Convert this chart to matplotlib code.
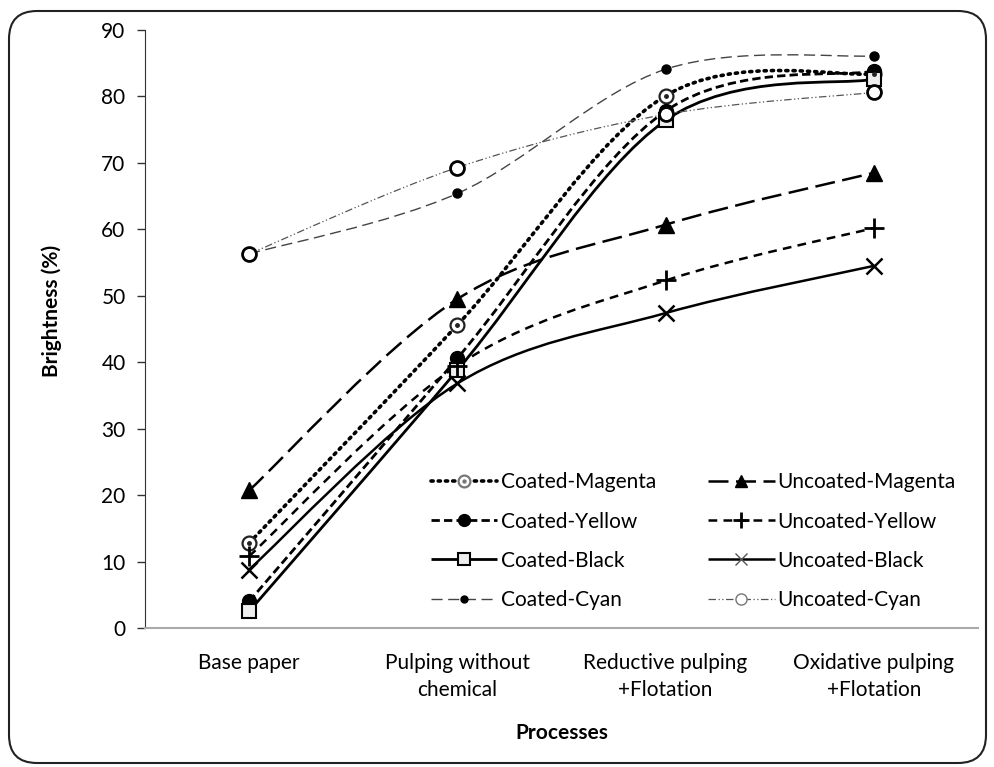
import numpy as np
import matplotlib
matplotlib.use('Agg')
import matplotlib.pyplot as plt
from matplotlib.path import Path
from matplotlib.patches import PathPatch, FancyBboxPatch
from matplotlib.lines import Line2D
from matplotlib.legend_handler import HandlerTuple
from matplotlib.transforms import IdentityTransform

plt.rcParams['font.family'] = ['Lato', 'DejaVu Sans']

processes = ['Base paper', 'Pulping without\nchemical', 'Reductive pulping\n+Flotation',
             'Oxidative pulping\n+Flotation']

coated_magenta = [12.8, 45.6, 80.1, 83.4]
coated_yellow = [4.0, 40.6, 77.8, 83.8]
coated_black = [2.5, 38.8, 76.4, 82.6]
coated_cyan = [56.3, 65.4, 84.1, 86.1]
uncoated_magenta = [20.7, 49.5, 60.7, 68.5]
uncoated_yellow = [10.8, 39.5, 52.3, 60.2]
uncoated_black = [8.8, 36.8, 47.4, 54.5]
uncoated_cyan = [56.3, 69.3, 77.3, 80.6]


def smooth_path(ys):
    # Excel-like smoothed line: cubic bezier through each point
    pts = np.column_stack([np.arange(len(ys)), ys]).astype(float)
    n = len(pts)
    verts = [pts[0]]
    codes = [Path.MOVETO]
    for i in range(n - 1):
        p0 = pts[max(i - 1, 0)]
        p1 = pts[i]
        p2 = pts[i + 1]
        p3 = pts[min(i + 2, n - 1)]
        verts += [p1 + (p2 - p0) / 6, p2 - (p3 - p1) / 6, p2]
        codes += [Path.CURVE4] * 3
    return Path(verts, codes)


fig = plt.figure(figsize=(9.95, 7.67), dpi=100)
ax = fig.add_axes([145 / 995, 1 - 628 / 767, (978 - 145) / 995, (628 - 30) / 767])

# legend is filled column by column, so coated first, then uncoated
series = [
    ('Coated-Magenta', coated_magenta, dict(ls=(0, (0.6, 1.4)), lw=2.6, color='black', capstyle='round'),
     [dict(marker='o', ms=10, mfc='white', mec='#222222', mew=1.6),
      dict(marker='o', ms=2.5, mfc='#222222', mec='#222222')]),
    ('Coated-Yellow', coated_yellow, dict(ls=(0, (3, 1.5)), lw=2.0, color='black'),
     [dict(marker='o', ms=10, mfc='black', mec='black')]),
    ('Coated-Black', coated_black, dict(ls='-', lw=2.0, color='black'),
     [dict(marker='s', ms=10, mfc='#eeeeee', mec='black', mew=1.5)]),
    ('Coated-Cyan', coated_cyan, dict(ls=(0, (8, 4)), lw=1.0, color='#444444'),
     [dict(marker='o', ms=6.5, mfc='black', mec='black')]),
    ('Uncoated-Magenta', uncoated_magenta, dict(ls=(0, (8, 3)), lw=1.8, color='black'),
     [dict(marker='^', ms=11, mfc='black', mec='black')]),
    ('Uncoated-Yellow', uncoated_yellow, dict(ls=(0, (3.5, 2.5)), lw=1.8, color='black'),
     [dict(marker='+', ms=14, mec='black', mew=2)]),
    ('Uncoated-Black', uncoated_black, dict(ls='-', lw=1.8, color='black'),
     [dict(marker='x', ms=11, mec='black', mew=1.8)]),
    ('Uncoated-Cyan', uncoated_cyan, dict(ls=(0, (6, 2, 1, 2, 1, 2)), lw=0.9, color='#555555'),
     [dict(marker='o', ms=10, mfc='white', mec='black', mew=2)]),
]

handles = []
labels = []
for name, ys, lstyle, markers in series:
    ls = lstyle.get('ls')
    patch = PathPatch(smooth_path(ys), fill=False, edgecolor=lstyle['color'], lw=lstyle['lw'],
                      linestyle=ls, capstyle=lstyle.get('capstyle', 'butt'), zorder=2)
    ax.add_patch(patch)
    parts = []
    for k, mk in enumerate(markers):
        ax.plot(range(len(ys)), ys, ls='none', zorder=3 + k, **mk)
        legend_mk = dict(mk)
        legend_mk['ms'] = mk['ms'] * 0.85
        if k == 0:
            if name == 'Coated-Magenta':
                legend_mk['mec'] = '#777777'
            if name == 'Uncoated-Cyan':
                legend_mk.update(ms=8, mew=1, mec='#777777')
            if name == 'Coated-Cyan':
                legend_mk['ms'] = 5
            if name == 'Uncoated-Black':
                legend_mk.update(ms=9, mew=1, mec='#555555')
            parts.append(Line2D([], [], color=lstyle['color'], lw=lstyle['lw'], ls=ls,
                                solid_capstyle='butt', dash_capstyle=lstyle.get('capstyle', 'butt'),
                                **legend_mk))
        else:
            legend_mk.update(mfc='#777777', mec='#777777')
            parts.append(Line2D([], [], ls='none', **legend_mk))
    handles.append(tuple(parts) if len(parts) > 1 else parts[0])
    labels.append(name)

ax.set_xlim(-0.5, 3.5)
ax.set_ylim(0, 90)
ax.set_yticks(range(0, 91, 10))
ax.set_xticks(range(4))
ax.set_xticklabels(processes, fontsize=15, linespacing=1.45)
ax.tick_params(axis='y', labelsize=15, length=6, width=1, color='#333333', pad=8)
ax.tick_params(axis='x', length=0, pad=18)
for s in ['top', 'right']:
    ax.spines[s].set_visible(False)
ax.spines['left'].set_color('#333333')
ax.spines['bottom'].set_color('#aaaaaa')
ax.spines['bottom'].set_linewidth(1.5)

ax.set_ylabel('Brightness (%)', fontsize=15, fontweight='bold')
ax.yaxis.set_label_coords(-0.1, 0.53)
ax.set_xlabel('Processes', fontsize=15, fontweight='bold')
ax.xaxis.set_label_coords(0.5, -0.159)

ax.legend(handles, labels, ncol=2, loc='upper left', bbox_to_anchor=(0.3205, 0.2916),
          frameon=False, fontsize=15, handlelength=3.2, handletextpad=0.15,
          columnspacing=2.5, labelspacing=0.92,
          handler_map={tuple: HandlerTuple(ndivide=1, pad=0)})

frame = FancyBboxPatch((9, 4), 977, 752, boxstyle='round,pad=0,rounding_size=28',
                       transform=IdentityTransform(), fill=False, edgecolor='#222222', lw=1.5)
fig.patches.append(frame)

fig.savefig('out.png', dpi=100)
